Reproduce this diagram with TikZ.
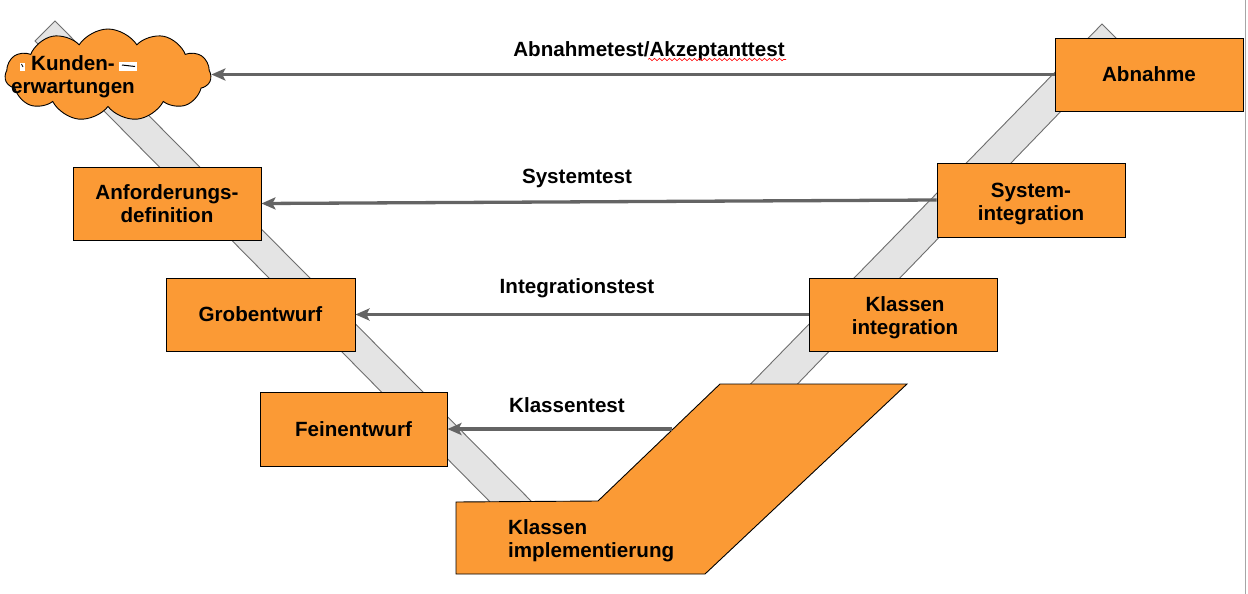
\documentclass[tikz,border=0pt]{standalone}
\usepackage{fontspec}
\setmainfont{Liberation Sans}
\usetikzlibrary{shapes.symbols,arrows.meta,decorations.pathmorphing}
\definecolor{vorange}{HTML}{FB9A35}
\definecolor{bandfill}{HTML}{E4E4E4}
\definecolor{bandline}{HTML}{6E6E6E}
\definecolor{arrcol}{HTML}{646464}
\begin{document}
\begin{tikzpicture}[x=1pt,y=-1pt,
  font=\fontsize{20.6}{23}\selectfont\bfseries,
  vbox/.style={draw=black, line width=0.9pt, fill=vorange, align=center, inner sep=0pt},
  band/.style={draw=bandline, line width=0.9pt, fill=bandfill},
  arr/.style={draw=arrcol, line width=3.3pt, -{Stealth[length=14pt,width=12pt,inset=3pt]}},
  lbl/.style={anchor=base, inner sep=0pt},
  btxt/.style={align=center, inner sep=0pt}]
\useasboundingbox (0,0) rectangle (1248,594);
\fill[white] (0,0) rectangle (1248,594);
% right border line
\draw[draw=gray!70, line width=1.6pt] (1245.5,0) -- (1245.5,594);
% V bands
\draw[band] (55,21) -- (35,41) -- (498,510) -- (540,510) -- cycle;
\draw[band] (1102,24) -- (1124,46) -- (782,400) -- (735,400) -- cycle;
% cloud
\node[cloud, cloud puffs=11, cloud puff arc=115, aspect=2.1, draw=black, line width=0.9pt,
  fill=vorange, minimum width=206pt, minimum height=92pt, inner sep=0pt] (kunde) at (108,75) {};
\node[align=center, inner sep=0pt] (kundetxt) at (73,77) {Kunden-\\erwartungen};
\fill[white] (20,63) rectangle (25,71);
\draw[black, line width=0.8pt] (21.5,64) -- (23,67);
\fill[white] (119,62) rectangle (137,71);
\draw[black, line width=1pt] (122,65) -- (135,66.5);
% boxes
\node[vbox, minimum width=188pt, minimum height=73pt] (anf) at (167,203.5) {Anforderungs-\\definition};
\node[vbox, minimum width=189pt, minimum height=73pt] (grob) at (260.5,314.5) {Grobentwurf};
\node[vbox, minimum width=187pt, minimum height=74pt] (fein) at (353.5,429) {Feinentwurf};
\node[vbox, minimum width=188pt, minimum height=73pt] (abn) at (1149,74.5) {Abnahme};
\node[vbox, minimum width=188pt, minimum height=74pt] (sys) at (1031,200) {};
\node[btxt] (systxt) at (1031,204) {System-\\integration};
\node[vbox, minimum width=188pt, minimum height=73pt] (kint) at (903,314.5) {};
\node[btxt] (kinttxt) at (905,318) {Klassen\\integration};
% implementation shape
\draw[draw=black, line width=0.9pt, fill=vorange] (456,502) -- (598,501) -- (720,384) -- (907,384) -- (705,574) -- (456,574) -- cycle;
\node[anchor=west, align=left, inner sep=0pt] (impl) at (508,541) {Klassen\\implementierung};
\coordinate (kt) at (672,429);
% arrows
\draw[arr] (abn.west) -- (abn.west -| kunde.east);
\draw[arr] (sys.west) -- (anf.east);
\draw[arr] (kint.west) -- (grob.east);
\draw[arr] (kt) -- (kt -| fein.east);
% labels
\node[lbl] (l1) at (649,56.5) {Abnahmetest/Akzeptanttest};
\draw[red, line width=0.6pt, decorate, decoration={snake, amplitude=1.2pt, segment length=5pt}] (648,59.5) -- (786,59.5);
\node[lbl] (l2) at (577,183.5) {Systemtest};
\node[lbl] (l3) at (577,293.5) {Integrationstest};
\node[lbl] (l4) at (567,412.5) {Klassentest};
\end{tikzpicture}
\end{document}
